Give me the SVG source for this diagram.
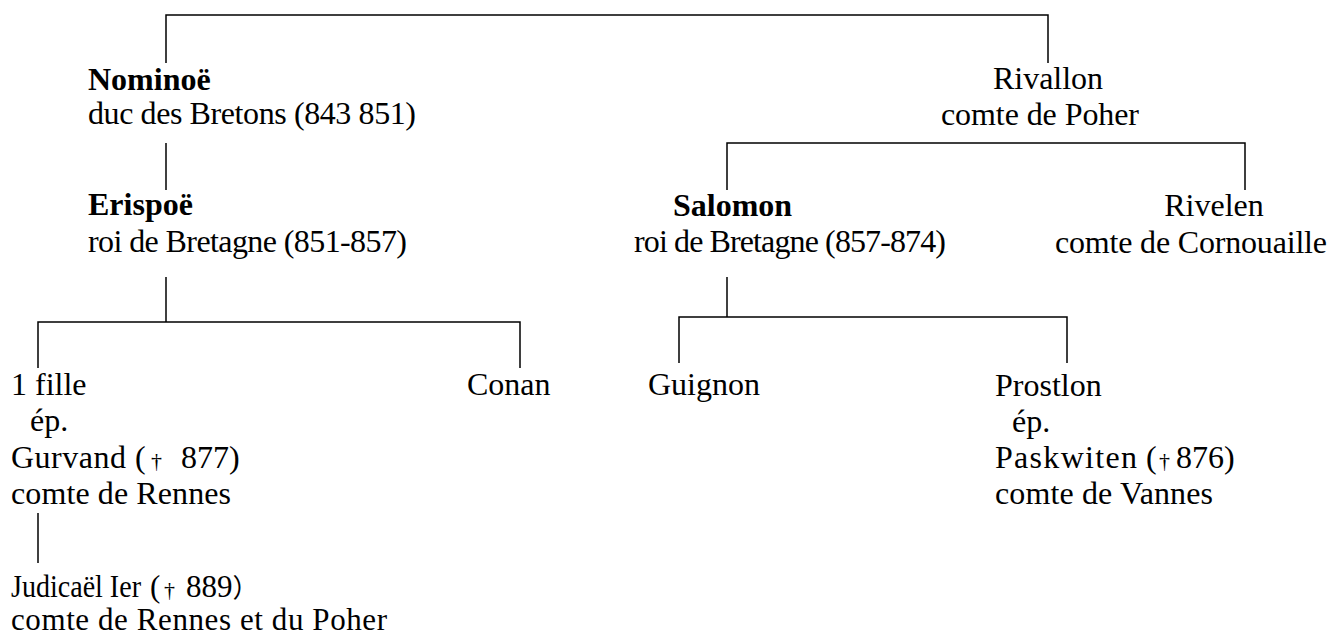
<svg xmlns="http://www.w3.org/2000/svg" width="1333" height="635" viewBox="0 0 1333 635">
<style>
text{font-family:"Liberation Serif","Times New Roman",serif;font-size:32px;fill:#000;white-space:pre}
.b{font-weight:bold}
.m{text-anchor:middle}
.s{font-size:31px}
.dg{font-size:22px}
.cjk{font-family:"Noto Sans CJK JP","Liberation Serif",sans-serif;font-size:26px}
#connectors path{fill:none;stroke:#000;stroke-width:1.5}
</style>
<rect width="1333" height="635" fill="#fff"/>
<g id="connectors">
<path d="M166,63 V15 H1048 V63"/>
<path d="M166,143 V190"/>
<path d="M166,277 V322"/>
<path d="M38,368 V322 H520 V368"/>
<path d="M38,513 V563"/>
<path d="M727,190 V143 H1245 V190"/>
<path d="M727,277 V317"/>
<path d="M679,363 V317 H1067 V363"/>
</g>
<g id="nominoe">
<text class="b" x="88" y="90">Nominoë</text>
<text x="88" y="124" textLength="328">duc des Bretons (843 851)</text>
</g>
<g id="rivallon">
<text class="m" x="1048" y="89">Rivallon</text>
<text class="m" x="1040" y="125" textLength="198">comte de Poher</text>
</g>
<g id="erispoe">
<text class="b" x="88" y="215">Erispoë</text>
<text x="88" y="252" textLength="319">roi de Bretagne (851-857)</text>
</g>
<g id="salomon">
<text class="b" x="673" y="216">Salomon</text>
<text x="634" y="252" textLength="312">roi de Bretagne (857-874)</text>
</g>
<g id="rivelen">
<text class="m" x="1214" y="216">Rivelen</text>
<text x="1055" y="253" textLength="272">comte de Cornouaille</text>
</g>
<g id="fille">
<text x="11" y="395">1 fille</text>
<text x="30" y="431">ép.</text>
<text x="11" y="468" textLength="115">Gurvand</text>
<text x="135" y="468">(<tspan class="dg" x="151">†</tspan><tspan x="181">877)</tspan></text>
<text x="11" y="504" textLength="220">comte de Rennes</text>
</g>
<g id="conan">
<text x="467" y="395">Conan</text>
</g>
<g id="judicael">
<text class="s" x="11" y="597"><tspan textLength="130" lengthAdjust="spacingAndGlyphs">Judicaël Ier</tspan><tspan x="150">(</tspan><tspan class="dg" x="164">†</tspan><tspan x="186">889</tspan><tspan class="cjk">）</tspan></text>
<text class="s" x="11" y="630" textLength="376">comte de Rennes et du Poher</text>
</g>
<g id="guignon">
<text x="648" y="395">Guignon</text>
</g>
<g id="prostlon">
<text x="995" y="396">Prostlon</text>
<text x="1012" y="432">ép.</text>
<text x="995" y="468" textLength="142">Paskwiten</text>
<text x="1146" y="468">(<tspan class="dg" x="1159">†</tspan><tspan x="1176">876)</tspan></text>
<text x="995" y="504" textLength="218">comte de Vannes</text>
</g>
</svg>
